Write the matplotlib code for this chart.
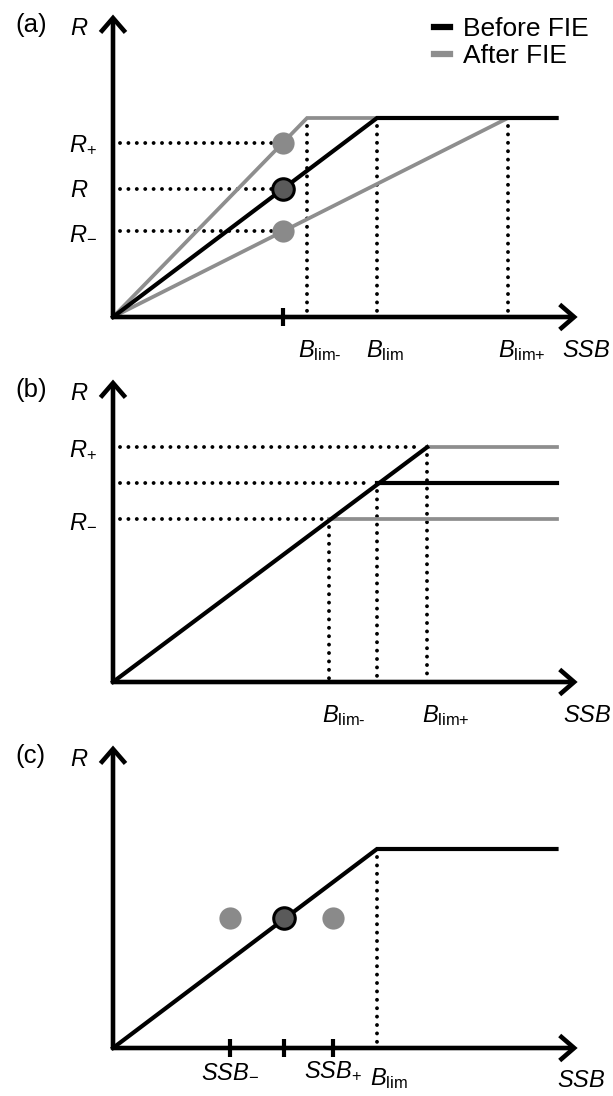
import matplotlib
matplotlib.use('Agg')
import matplotlib.pyplot as plt
from matplotlib.lines import Line2D

plt.rcParams['font.family'] = ['Liberation Sans', 'DejaVu Sans']
plt.rcParams['mathtext.fontset'] = 'custom'
plt.rcParams['mathtext.rm'] = 'Liberation Sans'
plt.rcParams['mathtext.it'] = 'Liberation Sans:italic'
plt.rcParams['mathtext.bf'] = 'Liberation Sans:bold'

# ---------------- data (schematic units: Blim = 1, plateau R = 1) -------------
# common axis extents
ssb_arrow = 1.76      # end of SSB axis arrow
r_arrow = 1.52        # end of R axis arrow
ssb_end = 1.68        # end of the plateau lines

# panel (a)
a_blim = 1.0
a_blim_minus = 0.735
a_blim_plus = 1.496
a_rmax = 1.0
a_ssb_obs = 0.644
a_r_plus = 0.876
a_r_mid = 0.644
a_r_minus = 0.43

# panel (b)
b_blim_minus = 0.818
b_blim = 1.0
b_blim_plus = 1.19
b_r_minus = 0.82
b_r_mid = 1.0
b_r_plus = 1.18

# panel (c)
c_blim = 1.0
c_rmax = 1.0
c_ssb_minus = 0.443
c_ssb_obs = 0.648
c_ssb_plus = 0.833
c_r_obs = 0.655

legend_labels = ['Before FIE', 'After FIE']

# ---------------- styles ------------------------------------------------------
BLACK = '#000000'
GRAY = '#8e8e8e'
DOTGRAY = '#8a8a8a'
MIDGRAY = '#5a5a5a'
LW = 3.0
GLW = 2.7
AXLW = 3.3
FS = 17
W, H = 613, 1096
OX = 113
SX, SY = 264.0, 199.0

fig = plt.figure(figsize=(W / 100, H / 100), dpi=100)


def make_panel(oy):
    ax = fig.add_axes([0, 0, 1, 1])
    ax.set_xlim(-OX / SX, (W - OX) / SX)
    ax.set_ylim((oy - H) / SY, oy / SY)
    ax.axis('off')
    return ax


def draw_axes(ax):
    ap = dict(arrowstyle='->,head_length=0.52,head_width=0.45', lw=AXLW,
              color=BLACK, mutation_scale=20, shrinkA=0, shrinkB=0,
              joinstyle='miter', capstyle='butt')
    ax.annotate('', xy=(ssb_arrow, 0), xytext=(-0.006, 0), arrowprops=ap)
    ax.annotate('', xy=(0, r_arrow), xytext=(0, -0.008), arrowprops=ap)


def dotted(ax, xs, ys):
    ax.plot(xs, ys, color=BLACK, lw=2.8, dashes=(0.01, 2.15),
            dash_capstyle='round', solid_capstyle='round')


def lbl(ax, text, xy, off, ha='left', fs=FS):
    ax.annotate(text, xy=xy, xytext=off, textcoords='offset pixels',
                ha=ha, va='baseline', fontsize=fs, annotation_clip=False)


def head(ax, letter):
    lbl(ax, letter, (0, r_arrow), (-98, -17), fs=18.5)
    lbl(ax, '$R$', (0, r_arrow), (-43, -20))


# ---------------- panel (a) ---------------------------------------------------
ax = make_panel(317)
# dotted guides
for xv in [a_blim_minus, a_blim, a_blim_plus]:
    dotted(ax, [xv, xv], [a_rmax - 0.04, 0.0])
for rv in [a_r_plus, a_r_mid, a_r_minus]:
    dotted(ax, [0.025, a_ssb_obs - 0.03], [rv, rv])
# stock-recruitment lines
ax.plot([0, a_blim_minus, ssb_end], [0, a_rmax, a_rmax], color=GRAY, lw=GLW,
        solid_joinstyle='miter')
ax.plot([0, a_blim_plus, ssb_end], [0, a_rmax, a_rmax], color=GRAY, lw=GLW,
        solid_joinstyle='miter')
ax.plot([0, a_blim, ssb_end], [0, a_rmax, a_rmax], color=BLACK, lw=LW,
        solid_joinstyle='miter')
# points
ax.plot([a_ssb_obs, a_ssb_obs], [a_r_plus, a_r_minus], 'o', ms=16,
        color=DOTGRAY, mec='none')
ax.plot([a_ssb_obs], [a_r_mid], 'o', ms=15.5, mfc=MIDGRAY, mec=BLACK, mew=2.2)
draw_axes(ax)
ax.plot([a_ssb_obs], [0], marker='|', ms=12.5, mew=3.0, color=BLACK)
head(ax, '(a)')
lbl(ax, '$R_{+}$', (0, a_r_plus), (-44, -8))
lbl(ax, '$R$', (0, a_r_mid), (-43, -8))
lbl(ax, '$R_{-}$', (0, a_r_minus), (-44, -8))
lbl(ax, r'$B_{\text{lim-}}$', (a_blim_minus, 0), (-9, -40))
lbl(ax, r'$B_{\text{lim}}$', (a_blim, 0), (-11, -40))
lbl(ax, r'$B_{\text{lim+}}$', (a_blim_plus, 0), (-10, -40))
lbl(ax, '$SSB$', (ssb_arrow, 0), (-16, -40))
handles = [Line2D([0], [0], color=BLACK, lw=4.5),
           Line2D([0], [0], color=GRAY, lw=4.5)]
ax.legend(handles, legend_labels, loc='upper left',
          bbox_to_anchor=(434 / W, 1 - 17 / H), bbox_transform=fig.transFigure,
          frameon=False, fontsize=19, handlelength=0.6, handletextpad=0.5,
          labelspacing=0.12, borderpad=0, borderaxespad=0)

# ---------------- panel (b) ---------------------------------------------------
ax = make_panel(682)
for xv, rv in [(b_blim_minus, b_r_minus), (b_blim, b_r_mid),
               (b_blim_plus, b_r_plus)]:
    dotted(ax, [xv, xv], [rv - 0.04, 0.0])
    dotted(ax, [0.025, xv - 0.02], [rv, rv])
ax.plot([b_blim_plus, ssb_end], [b_r_plus, b_r_plus], color=GRAY, lw=GLW)
ax.plot([b_blim_minus, ssb_end], [b_r_minus, b_r_minus], color=GRAY, lw=GLW)
ax.plot([b_blim, ssb_end], [b_r_mid, b_r_mid], color=BLACK, lw=LW)
ax.plot([0, b_blim_plus], [0, b_r_plus], color=BLACK, lw=LW)
draw_axes(ax)
head(ax, '(b)')
lbl(ax, '$R_{+}$', (0, b_r_plus), (-44, -9))
lbl(ax, '$R_{-}$', (0, b_r_minus), (-44, -8))
lbl(ax, r'$B_{\text{lim-}}$', (b_blim_minus, 0), (-7, -40))
lbl(ax, r'$B_{\text{lim+}}$', (b_blim_plus, 0), (-5, -40))
lbl(ax, '$SSB$', (ssb_arrow, 0), (-15, -40))

# ---------------- panel (c) ---------------------------------------------------
ax = make_panel(1048)
dotted(ax, [c_blim, c_blim], [c_rmax - 0.04, 0.0])
ax.plot([0, c_blim, ssb_end], [0, c_rmax, c_rmax], color=BLACK, lw=LW,
        solid_joinstyle='miter')
ax.plot([c_ssb_minus, c_ssb_plus], [c_r_obs, c_r_obs], 'o', ms=16,
        color=DOTGRAY, mec='none')
ax.plot([c_ssb_obs], [c_r_obs], 'o', ms=15.5, mfc=MIDGRAY, mec=BLACK, mew=2.2)
draw_axes(ax)
ax.plot([c_ssb_minus, c_ssb_obs, c_ssb_plus], [0, 0, 0], ls='none',
        marker='|', ms=12.5, mew=3.0, color=BLACK)
head(ax, '(c)')
lbl(ax, '$SSB_{-}$', (c_ssb_minus, 0), (0, -29), ha='center')
lbl(ax, '$SSB_{+}$', (c_ssb_plus, 0), (0, -29), ha='center')
lbl(ax, r'$B_{\text{lim}}$', (c_blim, 0), (-7, -37))
lbl(ax, '$SSB$', (ssb_arrow, 0), (-21, -39))

fig.savefig('out.png', dpi=100, facecolor='white')
